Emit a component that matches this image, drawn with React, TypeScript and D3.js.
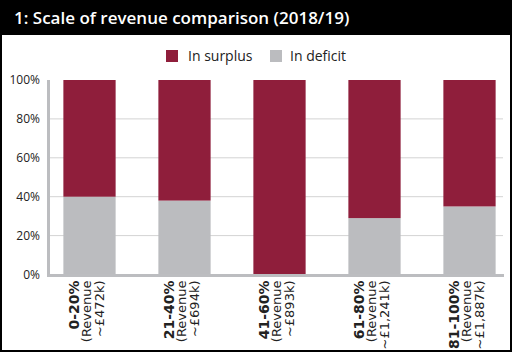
import { scaleBand, scaleLinear } from "d3";

const W = 512;
const H = 352;
const M = { top: 80, right: 8, bottom: 77.5, left: 49 };

const groups = ["0-20%", "21-40%", "41-60%", "61-80%", "81-100%"];
const revenue = ["~£472k)", "~£694k)", "~£893k)", "~£1,241k)", "~£1,887k)"];
const deficit = [40, 38, 0, 29, 35];
const surplus = [60, 62, 100, 71, 65];
const yTicks = [0, 20, 40, 60, 80, 100];

const SURPLUS = "#8f1e3b";
const DEFICIT = "#bbbcbf";
const AXIS = "#bcbdc0";
const FONT = "'Open Sans', 'Noto Sans', sans-serif";
const LABEL_FONT = "'DejaVu Sans', sans-serif";

export default function App() {
  const y0 = H - M.bottom;
  const x = scaleBand<string>()
    .domain(groups)
    .range([42, 517])
    .paddingInner(0.45)
    .paddingOuter(0.225);
  const y = scaleLinear().domain([0, 100]).range([y0, M.top]);

  return (
    <svg width={W} height={H} style={{ position: "absolute", left: 0, top: 0 }} fontFamily={FONT}>
      <rect x={1} y={1} width={W - 2} height={H - 2} fill="#fff" stroke="#000" strokeWidth={2} />
      <rect x={0} y={0} width={W} height={35} fill="#000" />
      <text x={14} y={24} fill="#fff" fontSize={17} fontWeight={600}>
        1: Scale of revenue comparison (2018/19)
      </text>

      {/* legend */}
      <rect x={166} y={50} width={12} height={12} fill={SURPLUS} />
      <text x={188} y={61} fontSize={14} fill="#222">In surplus</text>
      <rect x={270} y={50} width={12} height={12} fill={DEFICIT} />
      <text x={290} y={61} fontSize={14} fill="#222">In deficit</text>

      {yTicks.map((t) => (
        <g key={t}>
          {t > 0 && t < 100 ? (
            <line x1={M.left} x2={503} y1={y(t)} y2={y(t)} stroke="#d3d3d3" strokeWidth={1} />
          ) : null}
          <text x={40} y={y(t) + 4} textAnchor="end" fontSize={12} fill="#222">
            {t}%
          </text>
        </g>
      ))}

      {groups.map((g, i) => (
        <g key={g}>
          <rect x={x(g)} y={y(deficit[i])} width={x.bandwidth()} height={y0 - y(deficit[i])} fill={DEFICIT} />
          <rect
            x={x(g)}
            y={y(deficit[i] + surplus[i])}
            width={x.bandwidth()}
            height={y(deficit[i]) - y(deficit[i] + surplus[i])}
            fill={SURPLUS}
          />
        </g>
      ))}

      <line x1={48.5} x2={48.5} y1={M.top} y2={y0 + 2.5} stroke={AXIS} strokeWidth={3} />
      <line x1={47} x2={504} y1={y0 + 1} y2={y0 + 1} stroke={AXIS} strokeWidth={3} />

      {groups.map((g, i) => {
        const cx = (x(g) ?? 0) + x.bandwidth() / 2;
        return (
          <text
            key={g}
            transform={`translate(${cx},280.5) rotate(-90)`}
            textAnchor="end"
            fontSize={13}
            fontFamily={LABEL_FONT}
            fill="#222"
          >
            <tspan x={0} y={-11} fontWeight={700} fontSize={14}>{g}</tspan>
            <tspan x={0} y={1.5}>(Revenue</tspan>
            <tspan x={0} y={14}>{revenue[i]}</tspan>
          </text>
        );
      })}
    </svg>
  );
}
